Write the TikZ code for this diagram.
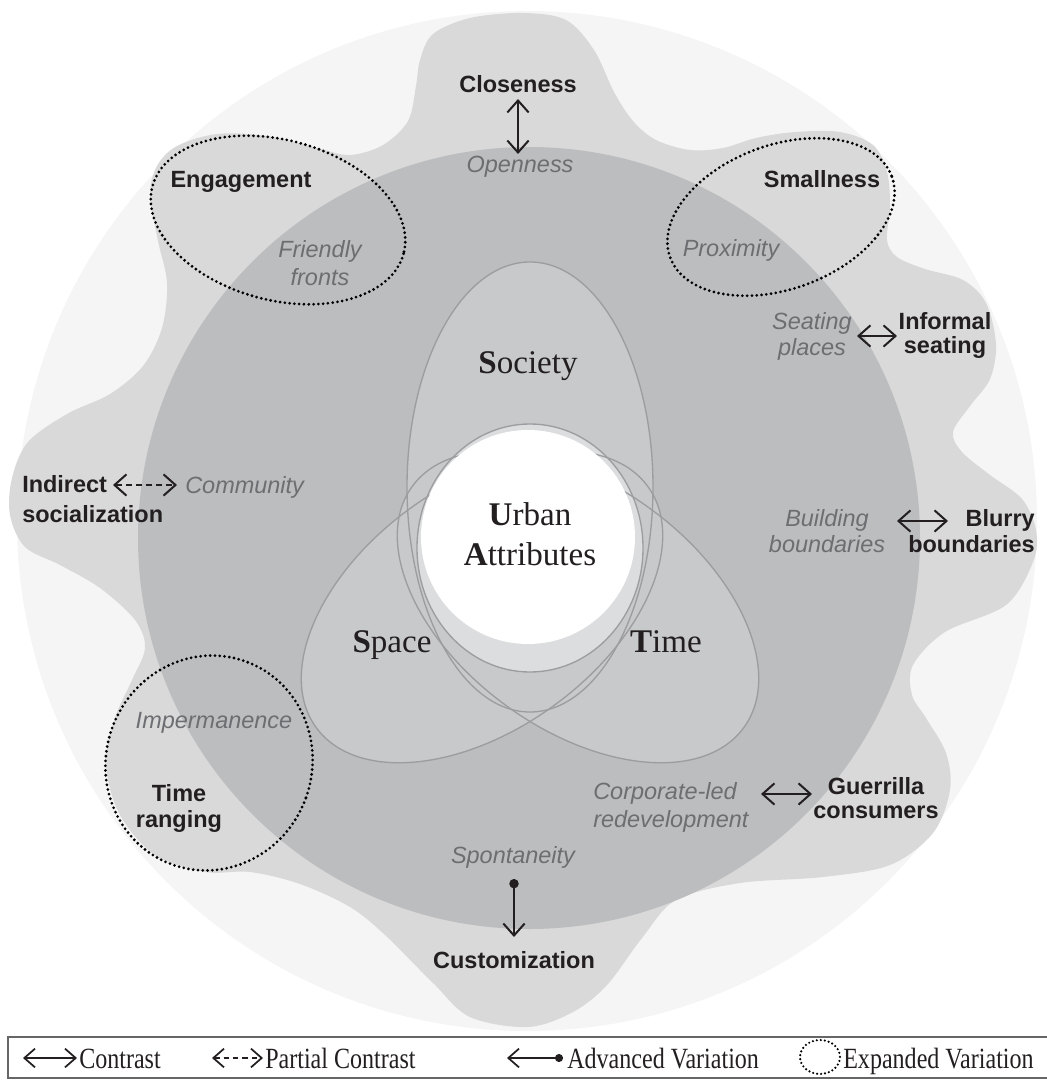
\documentclass[tikz,border=0pt]{standalone}
\usepackage{fontspec}
\setmainfont{Liberation Serif}
\newfontfamily\sansf{Liberation Sans}
\newfontfamily\legf{Liberation Serif}[FakeStretch=0.82]
\usetikzlibrary{arrows.meta}
\definecolor{outerc}{HTML}{F5F5F5}
\definecolor{blobc}{HTML}{D9D9D9}
\definecolor{darkc}{HTML}{BCBDBF}
\definecolor{ellc}{HTML}{C8C9CB}
\definecolor{innerc}{HTML}{DCDDDF}
\definecolor{linec}{HTML}{9D9D9F}
\definecolor{graytext}{HTML}{6D6E71}
\definecolor{blacktext}{HTML}{231F20}
\definecolor{boxc}{HTML}{666666}
\begin{document}
\begin{tikzpicture}[x=0.75pt,y=-0.75pt,
  boldlab/.style={font=\sansf\bfseries\fontsize{17.6}{19}\selectfont, text=blacktext, inner sep=0pt, align=center},
  itallab/.style={font=\sansf\itshape\fontsize{17.6}{19}\selectfont, text=graytext, inner sep=0pt, align=center},
  seriflab/.style={font=\fontsize{24.8}{30}\selectfont, text=blacktext, inner sep=0pt, align=center},
  leglab/.style={font=\legf\fontsize{22}{24}\selectfont, text=blacktext, inner sep=0pt, anchor=base west},
  barb/.tip={Straight Barb[length=9pt,width=16pt]},
  smallbarb/.tip={Straight Barb[length=8pt,width=14pt]},
  contrast/.style={line width=1.5pt, draw=blacktext, barb-barb},
  partial/.style={contrast, dash pattern=on 4.5pt off 3pt},
  advanced/.style={line width=1.5pt, draw=blacktext, {Circle[length=7pt]}-barb},
  dotline/.style={draw=black, line width=2.3pt, dash pattern=on 0pt off 3.6pt, line cap=round},
  venn/.style={draw=linec, line width=1pt}
]
\useasboundingbox (0,0) rectangle (1046,1080);
% background layers
\fill[outerc] (527,521) circle[radius=510];
\fill[blobc] plot[smooth cycle, tension=0.55] coordinates {
(433,34) (470,18) (523,13) (566,20) (594,50) (614,92) (633,121) (656,140) (690,150) (723,148) (756,138) (795,132) (840,132) (873,145) (887,172) (890,207) (887,240) (897,257) (925,269) (963,280) (986,303) (996,344) (990,379) (970,406) (953,432) (962,452) (990,475) (1022,499) (1036,530) (1033,562) (1006,605) (945,632) (913,665) (912,695) (926,718) (946,753) (950,790) (933,833) (890,865) (823,877) (740,883) (676,900) (642,938) (607,985) (573,1012) (528,1027) (470,1017) (433,983) (385,935) (350,907) (300,884) (250,872) (205,872) (155,855) (120,815) (106,765) (115,718) (132,680) (145,648) (135,620) (100,588) (60,565) (25,547) (10,515) (12,478) (28,442) (67,414) (110,394) (143,366) (162,328) (167,283) (158,241) (150,195) (157,166) (177,146) (217,134) (267,136) (317,148) (350,155) (383,145) (408,121) (416,86) (420,60)};
\fill[darkc] (529,538) circle[radius=391];
% venn ellipses
\fill[ellc] (530,487) ellipse[x radius=123, y radius=225];
\fill[ellc, rotate around={36:(482,607)}] (482,607) ellipse[x radius=205, y radius=122];
\fill[ellc, rotate around={-36:(578,607)}] (578,607) ellipse[x radius=205, y radius=122];
\fill[innerc] (530,548) ellipse[x radius=113, y radius=124];
\draw[venn] (530,487) ellipse[x radius=123, y radius=225];
\draw[venn, rotate around={36:(482,607)}] (482,607) ellipse[x radius=205, y radius=122];
\draw[venn, rotate around={-36:(578,607)}] (578,607) ellipse[x radius=205, y radius=122];
\draw[venn] (530,548) ellipse[x radius=113, y radius=124];
\fill[white] (528,537) circle[radius=107];
% expanded variation outlines
\draw[dotline, rotate around={-15:(278,220)}] (278,220) ellipse[x radius=130, y radius=80];
\draw[dotline, rotate around={20:(781,217)}] (781,217) ellipse[x radius=118, y radius=72];
\draw[dotline, rotate around={-20:(209,763)}] (209,763) ellipse[x radius=103, y radius=108];
% centre labels
\node[seriflab, anchor=base] (society) at (528,373) {\textbf{S}ociety};
\node[seriflab, anchor=base] (urban) at (530,565) {\textbf{U}rban\\\textbf{A}ttributes};
\node[seriflab, anchor=base] (space) at (392,652) {\textbf{S}pace};
\node[seriflab, anchor=base] (time) at (666,652) {\textbf{T}ime};
% outer labels
\node[boldlab, anchor=base] (closeness) at (518,93) {Closeness};
\node[itallab, anchor=base] (openness) at (520,173) {Openness};
\node[boldlab, anchor=base] (engagement) at (241,188) {Engagement};
\node[itallab, anchor=base] (friendly) at (320,286) {Friendly\\[2pt]fronts};
\node[boldlab, anchor=base] (smallness) at (822,188) {Smallness};
\node[itallab, anchor=base] (proximity) at (731,257) {Proximity};
\node[itallab, anchor=base] (seatingpl) at (812,355) {Seating\\[0.5pt]places};
\node[boldlab, anchor=base] (informal) at (945,353) {Informal\\[-1.5pt]seating};
\node[boldlab, anchor=base west, align=left] (indirect) at (22,522) {Indirect\\[2.8pt]socialization};
\node[itallab, anchor=base west] (community) at (185,493) {Community};
\node[itallab, anchor=base] (building) at (827,552) {Building\\boundaries};
\node[boldlab, anchor=base east, align=right] (blurry) at (1035,552) {Blurry\\boundaries};
\node[itallab, anchor=base] (impermanence) at (214,728) {Impermanence};
\node[boldlab, anchor=base] (timeranging) at (179,827) {Time\\ranging};
\node[itallab, anchor=base west, align=left] (corporate) at (593,827) {Corporate-led\\[1.3pt]redevelopment};
\node[boldlab, anchor=base] (guerrilla) at (876,818) {Guerrilla\\[-1.5pt]consumers};
\node[itallab, anchor=base] (spontaneity) at (513,863) {Spontaneity};
\node[boldlab, anchor=base] (customization) at (514,968) {Customization};
% connectors
\coordinate (a1) at (518,99);  \coordinate (b1) at (518,154);
\coordinate (a2) at (857,336); \coordinate (b2) at (897,336);
\coordinate (a3) at (897,521); \coordinate (b3) at (948,521);
\coordinate (a4) at (761,794); \coordinate (b4) at (812,794);
\coordinate (a5) at (113,485); \coordinate (b5) at (177,485);
\coordinate (a6) at (514,879); \coordinate (b6) at (514,937);
\draw[contrast] (a1) -- (b1);
\draw[contrast] (a2) -- (b2);
\draw[contrast] (a3) -- (b3);
\draw[contrast] (a4) -- (b4);
\draw[partial] (a5) -- (b5);
\draw[advanced] (a6) -- (b6);
% legend
\draw[boxc, line width=1.2pt] (1050,1037) -- (8,1037) -- (8,1078) -- (1050,1078);
\coordinate (l1a) at (23,1058); \coordinate (l1b) at (77,1058);
\coordinate (l2a) at (212,1058); \coordinate (l2b) at (263,1058);
\coordinate (l3a) at (507,1058); \coordinate (l3b) at (563,1058);
\draw[line width=1.3pt, draw=blacktext, smallbarb-smallbarb] (l1a) -- (l1b);
\draw[line width=1.3pt, draw=blacktext, smallbarb-smallbarb, dash pattern=on 4pt off 3pt] (l2a) -- (l2b);
\draw[line width=1.3pt, draw=blacktext, smallbarb-{Circle[length=6pt]}] (l3a) -- (l3b);
\draw[dotline, line width=1.8pt, dash pattern=on 0pt off 3pt] (820,1057) ellipse[x radius=20, y radius=17];
\node[leglab] (lg1) at (79,1068) {Contrast};
\node[leglab] (lg2) at (265,1068) {Partial Contrast};
\node[leglab] (lg3) at (567,1068) {Advanced Variation};
\node[leglab] (lg4) at (843,1068) {Expanded Variation};
\end{tikzpicture}
\end{document}
